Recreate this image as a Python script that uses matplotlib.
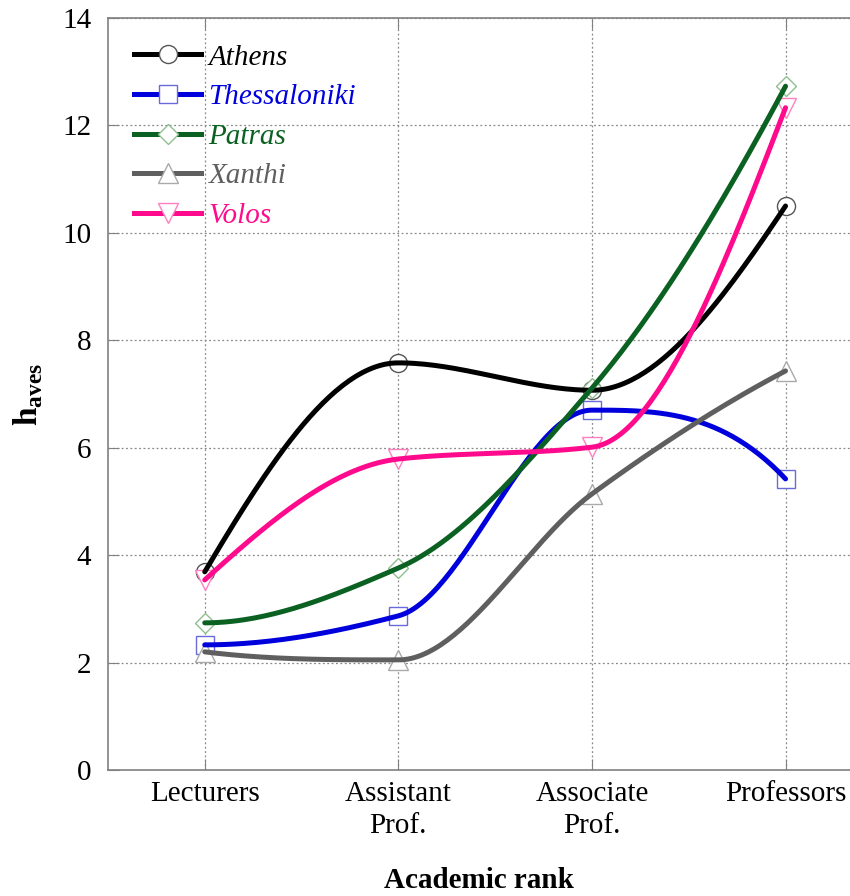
import matplotlib
matplotlib.use("Agg")
from matplotlib import pyplot as plt
import numpy as np

plt.rcParams['font.family'] = 'Liberation Serif'
plt.rcParams['mathtext.fontset'] = 'custom'
plt.rcParams['mathtext.rm'] = 'Liberation Serif'
plt.rcParams['mathtext.bf'] = 'Liberation Serif:bold'

# categories on the x axis
ranks = ['Lecturers', 'Assistant\nProf.', 'Associate\nProf.', 'Professors']

# h_aves per university
athens = [3.69, 7.58, 7.07, 10.50]
thessaloniki = [2.33, 2.87, 6.70, 5.42]
patras = [2.74, 3.76, 7.11, 12.73]
xanthi = [2.20, 2.05, 5.14, 7.43]
volos = [3.54, 5.79, 6.01, 12.33]

names = ['Athens', 'Thessaloniki', 'Patras', 'Xanthi', 'Volos']
series = [athens, thessaloniki, patras, xanthi, volos]
line_colors = ['#000000', '#0000dd', '#0b6122', '#5f5f5f', '#ff0a8c']
edge_colors = ['#555555', '#6a6ad8', '#8fbf8f', '#aaaaaa', '#ff7fbf']
markers = ['o', 's', 'D', '^', 'v']
msizes = [13, 13, 10, 14, 14]


def pchip(y, n=60):
    # monotone cubic (Fritsch-Carlson), unit spacing
    y = np.asarray(y, dtype=float)
    d = np.diff(y)
    m = np.zeros_like(y)
    for i in range(1, len(y) - 1):
        if d[i - 1] * d[i] > 0:
            m[i] = 2.0 / (1.0 / d[i - 1] + 1.0 / d[i])
    for i, (a, b) in ((0, (d[0], d[1])), (len(y) - 1, (d[-1], d[-2]))):
        e = (3 * a - b) / 2.0
        if np.sign(e) != np.sign(a):
            e = 0.0
        elif np.sign(a) != np.sign(b) and abs(e) > 3 * abs(a):
            e = 3 * a
        m[i] = e
    xs, ys = [], []
    for i in range(len(y) - 1):
        t = np.linspace(0, 1, n)
        h00 = 2 * t**3 - 3 * t**2 + 1
        h10 = t**3 - 2 * t**2 + t
        h01 = -2 * t**3 + 3 * t**2
        h11 = t**3 - t**2
        xs.extend(i + t)
        ys.extend(h00 * y[i] + h10 * m[i] + h01 * y[i + 1] + h11 * m[i + 1])
    return np.array(xs), np.array(ys)


fig = plt.figure(figsize=(8.5, 8.96), dpi=100)
ax = fig.add_axes([0.127, 0.1406, 0.873, 0.8393])

xpos = np.arange(len(ranks))
for name, vals, lc, ec, mk, ms in zip(names, series, line_colors, edge_colors, markers, msizes):
    ax.plot(xpos, vals, linestyle='none', marker=mk, markersize=ms,
            markerfacecolor='white', markeredgecolor=ec, markeredgewidth=1.0, zorder=2)
    sx, sy = pchip(vals)
    ax.plot(sx, sy, color=lc, linewidth=3.6, zorder=3, solid_capstyle='round')
    # legend proxy
    ax.plot([], [], color=lc, linewidth=3.6, marker=mk, markersize=ms,
            markerfacecolor='white', markeredgecolor=ec, markeredgewidth=1.0, label=name)

ax.set_xlim(-0.5, 3.333)
ax.set_ylim(0, 14)
ax.set_yticks(np.arange(0, 15, 2))
ax.set_xticks(xpos)
ax.set_xticklabels(ranks, fontsize=21, linespacing=1.3)
ax.tick_params(axis='y', labelsize=21, direction='in', length=8, color='#808080', pad=12)
ax.tick_params(axis='x', direction='in', length=8, color='#808080', pad=8, top=True)
ax.grid(True, linestyle=(0, (1.5, 2)), color='#888888', linewidth=0.9)
ax.set_axisbelow(True)
for s in ['left', 'bottom', 'top']:
    ax.spines[s].set_color('#808080')
    ax.spines[s].set_linewidth(1.2)
ax.spines['right'].set_visible(False)

ax.set_ylabel(r'$\mathbf{h}_{\mathbf{aves}}$', fontsize=24, labelpad=12)
ax.set_xlabel('Academic rank', fontsize=21, fontweight='bold', labelpad=20)

leg = ax.legend(loc='upper left', frameon=False, fontsize=21, handlelength=2.3,
                labelspacing=0.45, borderaxespad=0.5, borderpad=0.4, handletextpad=0.25)
for txt, c in zip(leg.get_texts(), line_colors):
    txt.set_color(c)
    txt.set_style('italic')

fig.savefig('out.png', dpi=100)
